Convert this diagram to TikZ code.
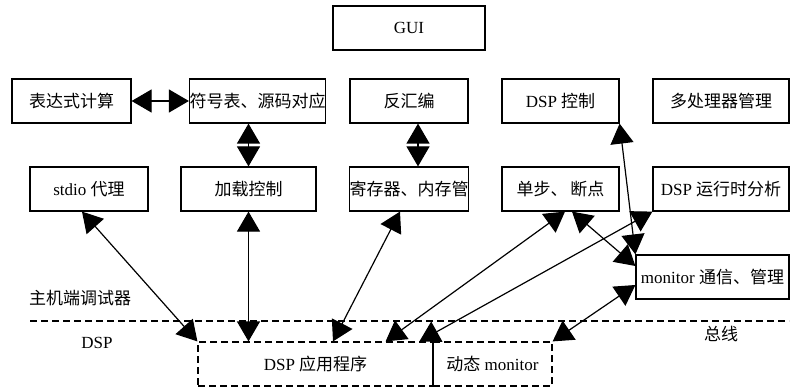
\documentclass[tikz,border=0pt]{standalone}
\usepackage{fontspec}
\setmainfont{Liberation Serif}
\newfontfamily\zhfont{Noto Sans CJK SC}
\newcommand{\cn}[1]{{\zhfont #1}}
\usetikzlibrary{arrows.meta}
\tikzset{>={Triangle[length=20pt,width=23pt]}}
\tikzset{box/.style={draw, line width=1.2pt, minimum height=44pt, inner sep=0pt, font=\fontsize{17}{20}\selectfont},
dbox/.style={box, dash pattern=on 7pt off 4pt},
lbl/.style={font=\fontsize{17}{20}\selectfont, inner sep=0pt},
link/.style={<->, line width=1.2pt}}

\begin{document}
\begin{tikzpicture}[x=1pt,y=-1pt]
\useasboundingbox (0,0) rectangle (791,387);
% host side
\node[box, minimum width=152pt] (gui) at (409,28) {GUI};
\node[box, minimum width=119pt] (expr) at (71.5,101) {\cn{表达式计算}};
\node[box, minimum width=135pt] (sym) at (257.5,101) {\cn{符号表、源码对应}};
\node[box, minimum width=118pt] (disasm) at (409,101) {\cn{反汇编}};
\node[box, minimum width=117pt] (ctrl) at (560.5,101) {DSP \cn{控制}};
\node[box, minimum width=136pt] (multi) at (721,101) {\cn{多处理器管理}};
\node[box, minimum width=118pt] (stdio) at (89,189) {stdio \cn{代理}};
\node[box, minimum width=135pt] (load) at (248.5,189) {\cn{加载控制}};
\node[box, minimum width=118pt] (reg) at (409,189) {\cn{寄存器、内存管}};
\node[box, minimum width=117pt] (stepbp) at (560.5,189) {\cn{单步、\,断点}};
\node[box, minimum width=136pt] (prof) at (721,189) {DSP \cn{运行时分析}};
\node[box, minimum width=153pt] (mon) at (712.5,277) {monitor \cn{通信、管理}};
% target side
\node[dbox, minimum width=235pt] (app) at (315.5,364) {DSP \cn{应用程序}};
\node[dbox, minimum width=119pt] (dyn) at (492.5,364) {\cn{动态} monitor};
% bus
\coordinate (busL) at (30,321);
\coordinate (busR) at (789,321);
\draw[line width=1.2pt, dash pattern=on 7pt off 4pt] (busL) -- (busR);
\node[lbl] (host) at (80,298) {\cn{主机端调试器}};
\node[lbl] (dsp) at (97,343) {DSP};
\node[lbl] (bus) at (721,334) {\cn{总线}};
% links
\draw[link] (expr.east) -- (sym.west);
\draw[link] (load.north |- sym.south) -- (load.north);
\draw[link] ([xshift=9pt]disasm.south) -- ([xshift=9pt]reg.north);
\draw[link] ([xshift=-7pt]stdio.south) -- (app.north west);
\draw[link] (load.south) -- (load.south |- app.north);
\draw[link] ([xshift=-9pt]reg.south) -- ([xshift=17.5pt]app.north);
\draw[link] ([xshift=4.5pt]stepbp.south) -- ([xshift=-48pt]app.north east);
\draw[link] (prof.south west) -- ([xshift=-13pt]dyn.north west);
\draw[link] ([xshift=11.5pt]stepbp.south) -- ([yshift=11pt]mon.west);
\draw[link] (ctrl.south east) -- (mon.north west);
\draw[link] ([yshift=-8pt]mon.west) -- (dyn.north east);
\end{tikzpicture}
\end{document}
